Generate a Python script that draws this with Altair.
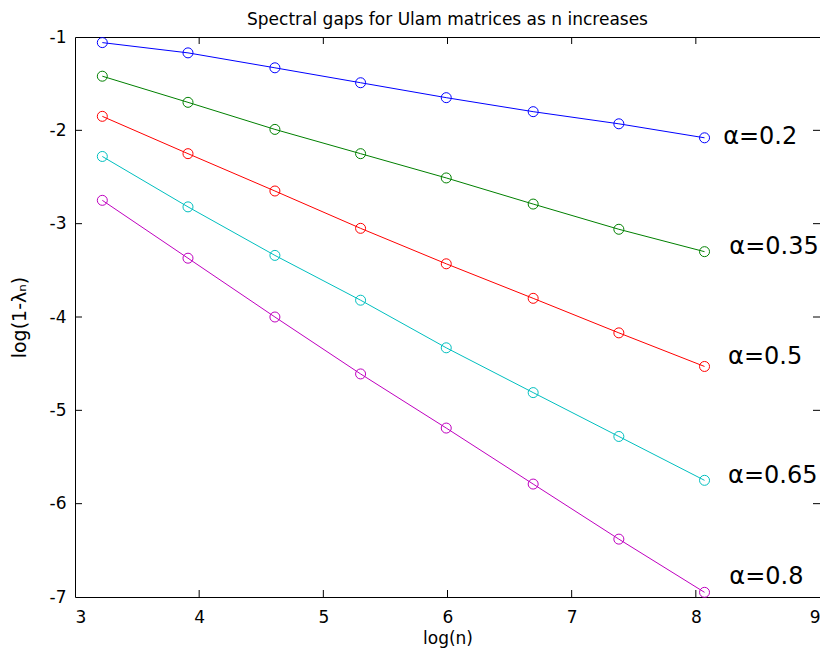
import altair as alt
import pandas as pd

# x positions: log(n)
log_n = [3.22, 3.91, 4.61, 5.30, 5.99, 6.69, 7.38, 8.07]

alphas = ["0.2", "0.35", "0.5", "0.65", "0.8"]
gap_a02 = [-1.06, -1.17, -1.33, -1.49, -1.65, -1.80, -1.93, -2.08]
gap_a035 = [-1.42, -1.70, -1.99, -2.25, -2.51, -2.79, -3.06, -3.30]
gap_a05 = [-1.85, -2.25, -2.65, -3.05, -3.43, -3.80, -4.17, -4.53]
gap_a065 = [-2.28, -2.82, -3.34, -3.82, -4.33, -4.81, -5.28, -5.75]
gap_a08 = [-2.75, -3.37, -4.00, -4.61, -5.19, -5.79, -6.38, -6.95]
series = [gap_a02, gap_a035, gap_a05, gap_a065, gap_a08]

colors = ["#0000ff", "#008000", "#ff0000", "#00bfbf", "#bf00bf"]

label_text = ["α=0.2", "α=0.35", "α=0.5", "α=0.65", "α=0.8"]
label_x = [8.22, 8.27, 8.26, 8.26, 8.27]
label_y = [-2.07, -3.25, -4.43, -5.70, -6.79]

x_ticks = [3, 4, 5, 6, 7, 8, 9]
y_ticks = [-7, -6, -5, -4, -3, -2, -1]
x_inner = [4, 5, 6, 7, 8]
y_inner = [-6, -5, -4, -3, -2]

rows = []
for a, vals in zip(alphas, series):
    for xv, yv in zip(log_n, vals):
        rows.append({"alpha": a, "logn": xv, "gap": yv})
df = pd.DataFrame(rows)

W, H = 745, 560
FONT = "DejaVu Sans"
TL = 7

xs = alt.Scale(domain=[3, 9], nice=False, zero=False)
ys = alt.Scale(domain=[-7, -1], nice=False, zero=False)
cs = alt.Scale(domain=alphas, range=colors)

x_axis = alt.Axis(values=x_ticks, title="log(n)", labelExpr="datum.value + ''",
                  labelPadding=12, titlePadding=5, tickSize=0, titleFontSize=17)
y_axis = alt.Axis(values=y_ticks, title="log(1-λₙ)", labelExpr="datum.value + ''",
                  labelPadding=9, titlePadding=20, tickSize=0, titleFontSize=19)

enc = dict(
    x=alt.X("logn:Q", scale=xs, axis=x_axis),
    y=alt.Y("gap:Q", scale=ys, axis=y_axis),
    color=alt.Color("alpha:N", scale=cs, legend=None),
)

lines = alt.Chart(df).mark_line(strokeWidth=1).encode(**enc)
points = alt.Chart(df).mark_point(shape="circle", filled=False, size=100, strokeWidth=1, opacity=1).encode(**enc)

xt = alt.Chart(pd.DataFrame({"t": x_inner})).mark_rule(color="black", strokeWidth=1)
x_bottom = xt.encode(x=alt.X("t:Q", scale=xs, axis=x_axis), y=alt.value(H), y2=alt.value(H - TL))
x_top = xt.encode(x=alt.X("t:Q", scale=xs, axis=x_axis), y=alt.value(0), y2=alt.value(TL))
yt = alt.Chart(pd.DataFrame({"t": y_inner})).mark_rule(color="black", strokeWidth=1)
y_left = yt.encode(y=alt.Y("t:Q", scale=ys, axis=y_axis), x=alt.value(0), x2=alt.value(TL))
y_right = yt.encode(y=alt.Y("t:Q", scale=ys, axis=y_axis), x=alt.value(W), x2=alt.value(W - TL))

labels = alt.Chart(pd.DataFrame({"txt": label_text, "lx": label_x, "ly": label_y})).mark_text(
    align="left", baseline="middle", fontSize=24, font=FONT, color="black"
).encode(
    x=alt.X("lx:Q", scale=xs, axis=x_axis),
    y=alt.Y("ly:Q", scale=ys, axis=y_axis),
    text="txt:N",
)

chart = alt.layer(lines, points, x_bottom, x_top, y_left, y_right, labels).properties(
    width=W,
    height=H,
    title=alt.TitleParams("Spectral gaps for Ulam matrices as  n  increases", fontSize=17,
                          font=FONT, fontWeight="normal", offset=10, dy=11, anchor="middle",
                          frame="group", color="black"),
    autosize=alt.AutoSizeParams(type="none"),
    padding={"left": 67, "top": 29, "right": 0, "bottom": 54},
).configure_view(
    stroke="black", strokeWidth=1
).configure_axis(
    domain=False, ticks=False, grid=False,
    labelFont=FONT, labelFontSize=17, labelColor="black",
    titleFont=FONT, titleFontWeight="normal", titleColor="black",
)

chart.save("out.html", embed_options={"renderer": "svg", "actions": False})
